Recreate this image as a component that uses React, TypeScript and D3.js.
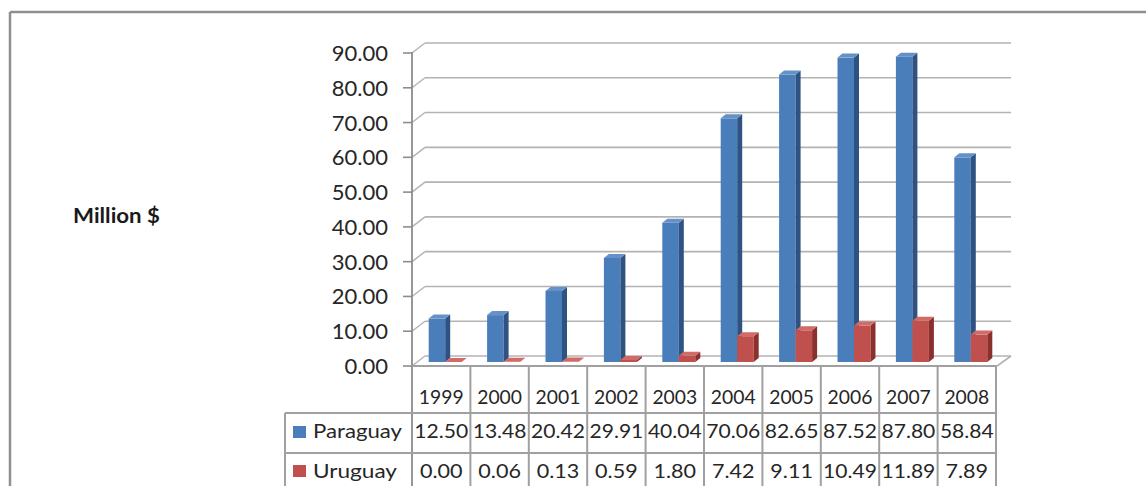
import React from "react";
import * as d3 from "d3";

const years = ["1999", "2000", "2001", "2002", "2003", "2004", "2005", "2006", "2007", "2008"];
const paraguay = [12.5, 13.48, 20.42, 29.91, 40.04, 70.06, 82.65, 87.52, 87.8, 58.84];
const uruguay = [0.0, 0.06, 0.13, 0.59, 1.8, 7.42, 9.11, 10.49, 11.89, 7.89];
const yTicks = [0, 10, 20, 30, 40, 50, 60, 70, 80, 90];
const seriesNames = ["Paraguay", "Uruguay"];

const W = 1146;
const H = 486;
const FONT = "Lato, 'Open Sans', sans-serif";

const colors = [
  { front: "#4A7EBB", side: "#2E5282", top: "#6690C8" },
  { front: "#C0504D", side: "#8C302E", top: "#D26A67" },
];

export default function App() {
  const x = d3.scaleBand<string>().domain(years).range([412, 996]).padding(0);
  const yFront = d3.scaleLinear().domain([0, 90]).range([366, 53]);
  const yBar = d3.scaleLinear().domain([0, 90]).range([362, 49]);
  const wallDx = 13;
  const wallDy = -10;
  const barW = 16.5;
  const bdx = 5;
  const bdy = -4;
  const grid = "#B3B3B3";
  const axis = "#8C8C8C";
  const tableLine = "#A0A0A0";

  const numLen = (s: string) => {
    const digits = s.replace(/[^0-9]/g, "").length;
    const dots = s.length - digits;
    return digits * 11.2 + dots * 9;
  };

  const series = [paraguay, uruguay];

  const bar = (x0: number, v: number, c: { front: string; side: string; top: string }, key: string) => {
    const y0 = yBar(0);
    const y1 = yBar(v);
    const x1 = x0 + barW;
    return (
      <g key={key}>
        <rect x={x0} y={y1} width={barW} height={Math.max(0, y0 - y1)} fill={c.front} />
        <polygon
          points={`${x1},${y1} ${x1 + bdx},${y1 + bdy} ${x1 + bdx},${y0 + bdy} ${x1},${y0}`}
          fill={c.side}
        />
        <polygon
          points={`${x0},${y1} ${x0 + bdx},${y1 + bdy} ${x1 + bdx},${y1 + bdy} ${x1},${y1}`}
          fill={c.top}
        />
      </g>
    );
  };

  const xEnd = x.range()[1];
  const rowTop = 366;
  const row1 = 413;
  const row2 = 453;

  return (
    <svg
      width={W}
      height={H}
      style={{ position: "absolute", left: 0, top: 0, display: "block", background: "#fff" }}
    >
      {/* outer frame */}
      <line x1={10} y1={12} x2={W} y2={12} stroke="#8F8F8F" strokeWidth={2.5} />
      <line x1={10} y1={12} x2={10} y2={H} stroke="#8F8F8F" strokeWidth={2.5} />

      {/* back wall gridlines */}
      {yTicks.map((t) => (
        <g key={"g" + t}>
          {t > 0 && (
            <line
              x1={412 + wallDx}
              y1={yFront(t) + wallDy}
              x2={xEnd + wallDx + 2}
              y2={yFront(t) + wallDy}
              stroke={grid}
              strokeWidth={1.6}
            />
          )}
          <line x1={412} y1={yFront(t)} x2={412 + wallDx} y2={yFront(t) + wallDy} stroke={grid} strokeWidth={1.4} />
          <line x1={403} y1={yFront(t)} x2={412} y2={yFront(t)} stroke={axis} strokeWidth={1.6} />
          <text
            x={388}
            y={yFront(t) + 8}
            textAnchor="end"
            fontFamily={FONT}
            fontSize={22}
            fill="#262626"
          >
            {t.toFixed(2)}
          </text>
        </g>
      ))}

      {/* floor */}
      <line x1={412 + wallDx} y1={yFront(0) + wallDy} x2={xEnd + wallDx + 2} y2={yFront(0) + wallDy} stroke={grid} strokeWidth={1.6} />
      <line x1={xEnd + wallDx + 2} y1={yFront(0) + wallDy} x2={xEnd + 1} y2={yFront(0)} stroke={grid} strokeWidth={1.6} />

      {/* bars */}
      {years.map((yr) => {
        const cx = (x(yr) as number) + x.bandwidth() / 2;
        const i = years.indexOf(yr);
        return (
          <g key={"b" + yr}>
            {series.map((s, si) => bar(cx - 12.5 + si * barW, s[i], colors[si], yr + si))}
          </g>
        );
      })}

      {/* y axis line */}
      <line x1={412} y1={52} x2={412} y2={H} stroke={axis} strokeWidth={1.8} />

      {/* data table */}
      <line x1={412} y1={rowTop} x2={xEnd + 1} y2={rowTop} stroke={tableLine} strokeWidth={2} />
      <line x1={285} y1={row1} x2={xEnd + 1} y2={row1} stroke={tableLine} strokeWidth={2} />
      <line x1={285} y1={row2} x2={xEnd + 1} y2={row2} stroke={tableLine} strokeWidth={2} />
      <line x1={285} y1={row1} x2={285} y2={H} stroke={tableLine} strokeWidth={2} />
      {years.map((yr) => (
        <line
          key={"v" + yr}
          x1={(x(yr) as number) + x.bandwidth()}
          y1={rowTop}
          x2={(x(yr) as number) + x.bandwidth()}
          y2={H}
          stroke={tableLine}
          strokeWidth={2}
        />
      ))}
      {years.map((yr, i) => {
        const cx = (x(yr) as number) + x.bandwidth() / 2;
        const p = paraguay[i].toFixed(2);
        const u = uruguay[i].toFixed(2);
        return (
          <g key={"t" + yr} fontFamily={FONT} fontSize={19} fill="#262626" textAnchor="middle">
            <text x={cx} y={404} textLength={numLen(yr)} lengthAdjust="spacingAndGlyphs">
              {yr}
            </text>
            <text x={cx} y={438} textLength={numLen(p)} lengthAdjust="spacingAndGlyphs">
              {p}
            </text>
            <text x={cx} y={478} textLength={numLen(u)} lengthAdjust="spacingAndGlyphs">
              {u}
            </text>
          </g>
        );
      })}

      {/* legend keys in table */}
      <rect x={293} y={426} width={13} height={12} fill={colors[0].front} />
      <text x={313} y={438} fontFamily={FONT} fontSize={19} fill="#262626" textLength={89} lengthAdjust="spacingAndGlyphs">
        {seriesNames[0]}
      </text>
      <rect x={293} y={465} width={13} height={12} fill={colors[1].front} />
      <text x={313} y={478} fontFamily={FONT} fontSize={19} fill="#262626" textLength={84} lengthAdjust="spacingAndGlyphs">
        {seriesNames[1]}
      </text>

      {/* axis title */}
      <text x={73} y={223} fontFamily={FONT} fontSize={21} fontWeight="bold" fill="#1a1a1a" textLength={87} lengthAdjust="spacingAndGlyphs">
        Million $
      </text>
    </svg>
  );
}
